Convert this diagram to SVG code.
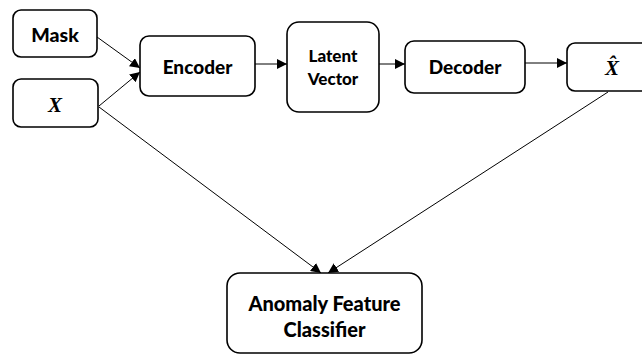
<svg xmlns="http://www.w3.org/2000/svg" width="642" height="354" viewBox="0 0 642 354">
  <style>
    .box { fill: #ffffff; stroke: #000000; stroke-width: 1.6; }
    .lbl { font-family: Lato, "Open Sans", sans-serif; font-weight: 900; fill: #000; text-anchor: middle; }
    .math { font-family: "Liberation Serif", serif; font-weight: bold; font-style: italic; fill: #000; text-anchor: middle; }
    .edge { stroke: #000; stroke-width: 1; fill: none; marker-end: url(#arrow); }
  </style>
  <defs>
    <marker id="arrow" viewBox="0 0 10 10" refX="10" refY="5" markerWidth="10" markerHeight="10" markerUnits="userSpaceOnUse" orient="auto">
      <path d="M0,0 L10,5 L0,10 z" fill="#000"/>
    </marker>
  </defs>
  <rect width="642" height="354" fill="#ffffff"/>

  <g id="connectors">
    <line class="edge" x1="97" y1="37" x2="140" y2="68"/>
    <line class="edge" x1="99" y1="106" x2="140" y2="72"/>
    <line class="edge" x1="255" y1="64" x2="287" y2="64"/>
    <line class="edge" x1="379" y1="64" x2="405" y2="64"/>
    <line class="edge" x1="525" y1="63" x2="567" y2="63"/>
    <line class="edge" x1="99" y1="107" x2="321" y2="273"/>
    <line class="edge" x1="608" y1="92" x2="328" y2="273"/>
  </g>

  <g id="mask">
    <rect class="box" x="13" y="10" width="84" height="47" rx="8"/>
    <text class="lbl" x="55" y="42" font-size="19.5">Mask</text>
  </g>
  <g id="x-input">
    <rect class="box" x="13" y="79" width="85" height="48" rx="8"/>
    <text class="math" x="55" y="112" font-size="21">X</text>
  </g>
  <g id="encoder">
    <rect class="box" x="140" y="36" width="115" height="60" rx="9"/>
    <text class="lbl" x="197.5" y="74" font-size="19">Encoder</text>
  </g>
  <g id="latent-vector">
    <rect class="box" x="287" y="22" width="92" height="90" rx="12"/>
    <text class="lbl" x="333" y="62" font-size="17">Latent</text>
    <text class="lbl" x="333" y="85" font-size="17">Vector</text>
  </g>
  <g id="decoder">
    <rect class="box" x="405" y="41" width="120" height="52" rx="9"/>
    <text class="lbl" x="465" y="74" font-size="19">Decoder</text>
  </g>
  <g id="x-hat">
    <rect class="box" x="567" y="43" width="85" height="48" rx="8"/>
    <text class="math" x="612" y="75" font-size="21">X̂</text>
  </g>
  <g id="classifier">
    <rect class="box" x="227" y="273" width="195" height="80" rx="13"/>
    <text class="lbl" x="324.5" y="311" font-size="20">Anomaly Feature</text>
    <text class="lbl" x="324.5" y="337" font-size="20">Classifier</text>
  </g>
</svg>
